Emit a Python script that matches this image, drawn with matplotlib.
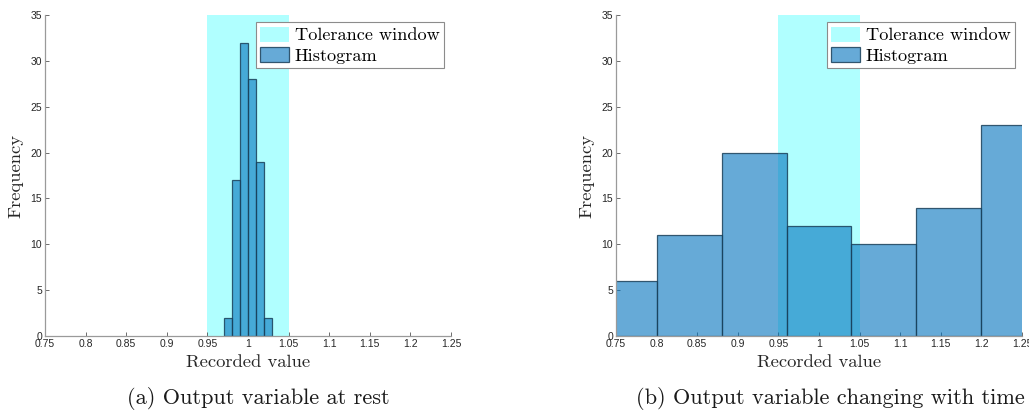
import matplotlib
matplotlib.use("Agg")
import matplotlib.pyplot as plt
from matplotlib.patches import Patch
import numpy as np

# ---- data ----
rest_edges = [0.97, 0.98, 0.99, 1.00, 1.01, 1.02, 1.03]
rest_counts = [2, 17, 32, 28, 19, 2]
time_edges = [0.72, 0.80, 0.88, 0.96, 1.04, 1.12, 1.20, 1.28]
time_counts = [6, 11, 20, 12, 10, 14, 23]
tolerance = [0.95, 1.05]
xticks = [0.75, 0.8, 0.85, 0.9, 0.95, 1.0, 1.05, 1.1, 1.15, 1.2, 1.25]
xticklabels = ["0.75", "0.8", "0.85", "0.9", "0.95", "1", "1.05", "1.1", "1.15", "1.2", "1.25"]
yticks = [0, 5, 10, 15, 20, 25, 30, 35]
captions = ["(a) Output variable at rest", "(b) Output variable changing with time"]

plt.rcParams['axes.formatter.use_mathtext'] = True
SERIF = 'cmr10'
TICKFONT = 'Liberation Sans'

fig = plt.figure(figsize=(10.29, 4.16), dpi=100)
W, H = 1029, 416
ax_left_px = [45, 616]
ax_w = 406
ax_top, ax_bot = 15, 336

bar_face = (0.0, 0.447, 0.741, 0.6)
bar_edge = (0.1, 0.25, 0.35, 0.85)
win_color = '#b0ffff'

renderer = fig.canvas.get_renderer()


def fit_width(text, target_px, base=13.0):
    text.set_fontsize(base)
    w = text.get_window_extent(renderer).width
    size = base * target_px / w
    text.set_fontsize(size)
    return size


# measure font sizes for serif texts
probe = fig.text(0, 0, "Recorded value", fontfamily=SERIF)
label_size = fit_width(probe, 125)
probe.set_text("Tolerance window")
legend_size = fit_width(probe, 145)
probe.set_text(captions[0])
cap_size = fit_width(probe, 263)
probe.remove()

datasets = [(rest_edges, rest_counts), (time_edges, time_counts)]

for i, (edges, counts) in enumerate(datasets):
    ax = fig.add_axes([ax_left_px[i] / W, (H - ax_bot) / H, ax_w / W, (ax_bot - ax_top) / H])
    ax.axvspan(tolerance[0], tolerance[1], color=win_color, lw=0, zorder=1)
    ax.hist(edges[:-1], bins=edges, weights=counts, facecolor=bar_face,
            edgecolor=bar_edge, linewidth=0.9, zorder=2)
    ax.set_xlim(0.75, 1.25)
    ax.set_ylim(0, 35)
    ax.set_xticks(xticks)
    ax.set_xticklabels(xticklabels, fontfamily=TICKFONT, fontsize=7.5, color='#262626')
    ax.set_yticks(yticks)
    ax.set_yticklabels([str(v) for v in yticks], fontfamily=TICKFONT, fontsize=7.5, color='#262626')
    ax.tick_params(direction='in', length=3, width=0.6, color='#555555', pad=2)
    for s in ['top', 'right']:
        ax.spines[s].set_visible(False)
    for s in ['left', 'bottom']:
        ax.spines[s].set_color('#9a9a9a')
        ax.spines[s].set_linewidth(0.9)
    ax.set_xlabel("Recorded value", fontfamily=SERIF, fontsize=label_size, color='#262626')
    ax.xaxis.set_label_coords(0.5, (ax_bot - 362) / (ax_bot - ax_top))
    ax.xaxis.label.set_va('center')
    ax.set_ylabel("Frequency", fontfamily=SERIF, fontsize=label_size, color='#262626')
    ax.yaxis.set_label_coords((16 - 45) / ax_w, 0.5)
    ax.yaxis.label.set_va('center')
    handles = [Patch(facecolor=win_color, edgecolor='none', label='Tolerance window'),
               Patch(facecolor=bar_face, edgecolor=bar_edge, linewidth=0.9, label='Histogram')]
    leg = ax.legend(handles=handles, loc='upper right', bbox_to_anchor=(1 - 7 / ax_w, 1 - 7 / 321),
                    borderaxespad=0, prop={'family': SERIF, 'size': legend_size}, frameon=True,
                    fancybox=False, framealpha=1, edgecolor='#8c8c8c', handlelength=1.6,
                    handleheight=0.9, handletextpad=0.3, borderpad=0.25, labelspacing=0.2)
    leg.get_frame().set_linewidth(0.8)
    leg.set_zorder(5)

# captions
ca = fig.text(258.5 / W, 1 - 399 / H, captions[0], fontfamily=SERIF, fontsize=cap_size,
              ha='center', va='center', color='#1a1a1a')
cb = fig.text(1025 / W, 1 - 399 / H, captions[1], fontfamily=SERIF, fontsize=cap_size,
              ha='right', va='center', color='#1a1a1a')

fig.savefig("out.png", dpi=100)
